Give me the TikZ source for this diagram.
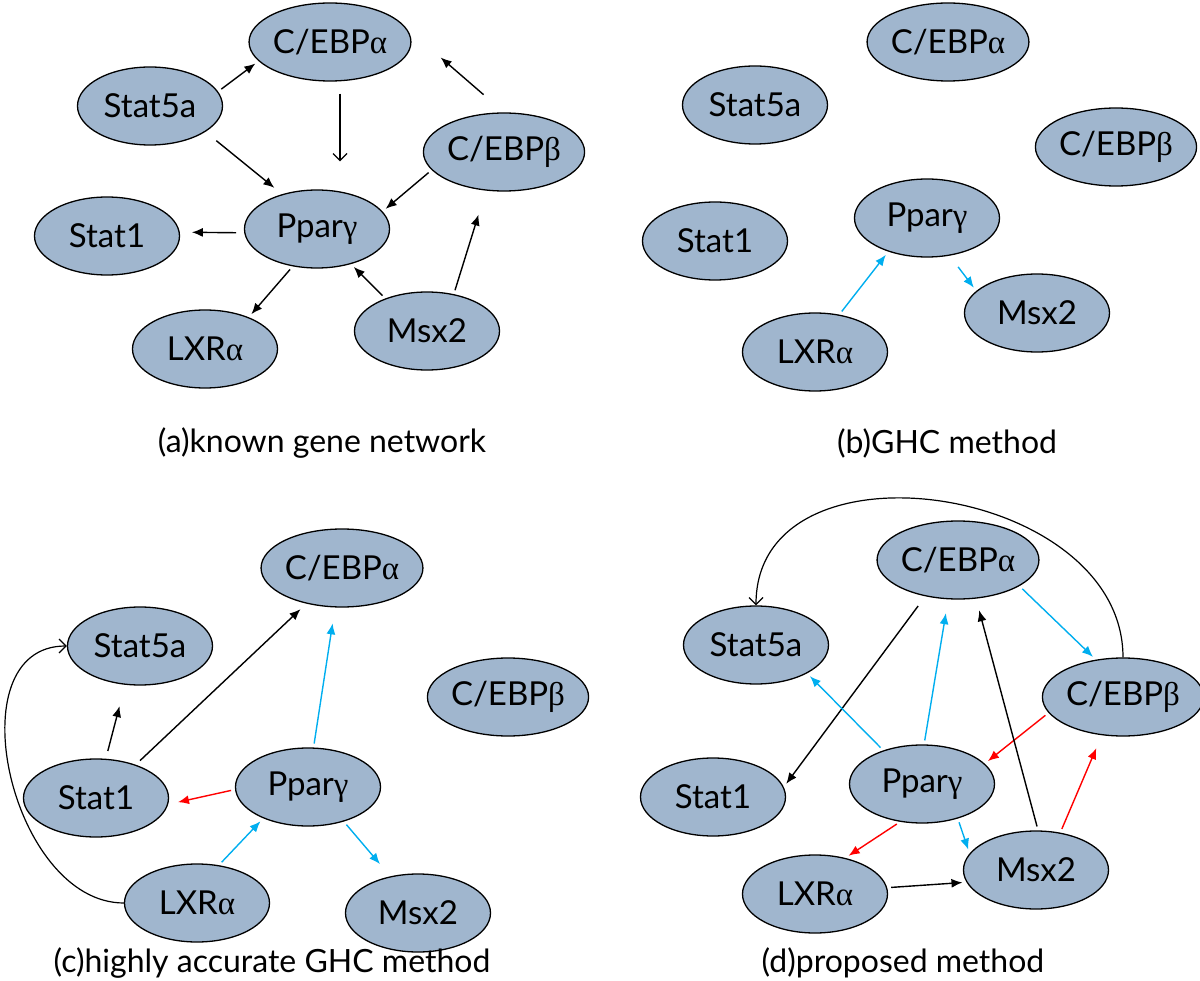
\documentclass[tikz,border=0pt]{standalone}
\usepackage{fontspec}
\setmainfont{Lato}
\newfontfamily\greekfont{Liberation Serif}
\usetikzlibrary{arrows.meta, shapes.geometric}
\definecolor{geneFill}{RGB}{160,182,206}
\definecolor{edgeBlue}{RGB}{0,174,239}
\definecolor{edgeRed}{RGB}{255,0,0}
\newcommand{\galpha}{{\greekfont α}}
\newcommand{\gbeta}{{\greekfont β}}
\newcommand{\ggam}{{\greekfont γ}}

\begin{document}
\begin{tikzpicture}[
    x=1pt, y=-1pt,
    gene/.style={ellipse, draw, line width=1.3pt, fill=geneFill, minimum width=145pt, minimum height=78pt, inner sep=0pt, font=\fontsize{33}{36}\selectfont},
    edge/.style={line width=1.4pt, -{Latex[length=11pt,width=9pt]}, shorten <=4pt, shorten >=4pt},
    bl/.style={edge, edgeBlue},
    rd/.style={edge, edgeRed},
    openedge/.style={line width=1.2pt, -{Straight Barb[length=7pt,width=14pt]}},
    caption/.style={font=\fontsize{32}{36}\selectfont}
]
    \useasboundingbox (0,0) rectangle (1200,981);

    % (a) known gene network
    \node[gene] (a-cebpa) at (330,42) {C/EBP\galpha};
    \node[gene] (a-stat5a) at (150,106) {Stat5a};
    \node[gene] (a-cebpb) at (504,152) {C/EBP\gbeta};
    \node[gene] (a-stat1) at (107,236) {Stat1};
    \node[gene] (a-ppar) at (317,229) {Ppar\ggam};
    \node[gene] (a-lxr) at (205,349) {LXR\galpha};
    \node[gene] (a-msx) at (427,331) {Msx2};
    \node[caption] (a-cap) at (322,443) {(a)known gene network};

    \draw[edge] (a-stat5a.12) -- (a-cebpa.195);
    \draw[openedge, shorten <=12pt, shorten >=28pt] ([xshift=10pt]a-cebpa.south) -- ([xshift=23pt]a-ppar.north);
    \draw[edge, shorten <=14pt, shorten >=10pt] (a-stat5a.-25) -- (a-ppar.135);
    \draw[edge] (a-cebpb.194) -- (a-ppar.15);
    \draw[edge, shorten <=27pt, shorten >=60pt] (a-cebpb.north) -- (a-cebpa.20);
    \draw[edge, shorten <=8pt, shorten >=12pt] (a-ppar.183) -- (a-stat1.3);
    \draw[edge] (a-ppar.237) -- (a-lxr.36);
    \draw[edge] (a-msx.142) -- (a-ppar.314);
    \draw[edge, shorten >=25pt] (a-msx.54) -- (a-cebpb.245);

    % (b) GHC method
    \node[gene] (b-cebpa) at (948,42) {C/EBP\galpha};
    \node[gene] (b-stat5a) at (755,105) {Stat5a};
    \node[gene] (b-cebpb) at (1116,147) {C/EBP\gbeta};
    \node[gene] (b-stat1) at (715,241) {Stat1};
    \node[gene] (b-ppar) at (927,218) {Ppar\ggam};
    \node[gene] (b-lxr) at (815,352) {LXR\galpha};
    \node[gene] (b-msx) at (1037,313) {Msx2};
    \node[caption] (b-cap) at (947,443) {(b)GHC method};

    \draw[bl] (b-lxr.57) -- (b-ppar.221);
    \draw[bl, shorten <=14pt] (b-ppar.301) -- (b-msx.160);

    % (c) highly accurate GHC method
    \node[gene] (c-cebpa) at (342,568) {C/EBP\galpha};
    \node[gene] (c-stat5a) at (140,646) {Stat5a};
    \node[gene] (c-cebpb) at (508,697) {C/EBP\gbeta};
    \node[gene] (c-stat1) at (96,798) {Stat1};
    \node[gene] (c-ppar) at (308,787) {Ppar\ggam};
    \node[gene] (c-lxr) at (197,903) {LXR\galpha};
    \node[gene] (c-msx) at (418,913) {Msx2};
    \node[caption] (c-cap) at (272,963) {(c)highly accurate GHC method};

    \draw[edge, shorten <=8pt, shorten >=22pt] (c-stat1.76) -- (c-stat5a.249);
    \draw[edge, shorten <=6pt, shorten >=8pt] (c-stat1.40) -- (c-cebpa.225);
    \draw[bl, shorten >=16pt] (c-ppar.82) -- (c-cebpa.260);
    \draw[rd, shorten >=10pt] (c-ppar.182) -- (c-stat1.355);
    \draw[bl] (c-lxr.60) -- (c-ppar.215);
    \draw[bl, shorten >=16pt] (c-ppar.316) -- (c-msx.127);
    \draw[openedge] (c-lxr.west) to[out=180, in=180, looseness=1.1] (c-stat5a.west);

    % (d) proposed method
    \node[gene] (d-cebpa) at (958,560) {C/EBP\galpha};
    \node[gene] (d-stat5a) at (756,645) {Stat5a};
    \node[gene] (d-cebpb) at (1123,697) {C/EBP\gbeta};
    \node[gene] (d-stat1) at (713,797) {Stat1};
    \node[gene] (d-ppar) at (922,784) {Ppar\ggam};
    \node[gene] (d-lxr) at (815,894) {LXR\galpha};
    \node[gene] (d-msx) at (1036,870) {Msx2};
    \node[caption] (d-cap) at (903,963) {(d)proposed method};

    \draw[openedge] (d-cebpb.north) to[out=90, in=90, looseness=1.2] (d-stat5a.north);
    \draw[edge, shorten <=12pt] (d-cebpa.228) -- (d-stat1.8);
    \draw[bl] (d-ppar.139) -- (d-stat5a.331);
    \draw[bl, shorten >=14pt] (d-ppar.87) -- (d-cebpa.256);
    \draw[bl] (d-cebpa.337) -- (d-cebpb.126);
    \draw[rd] (d-cebpb.192) -- (d-ppar.18);
    \draw[edge, shorten >=12pt] (d-msx.87) -- (d-cebpa.295);
    \draw[rd, shorten >=14pt] (d-msx.57) -- (d-cebpb.241);
    \draw[bl] (d-ppar.316) -- (d-msx.166);
    \draw[rd] (d-ppar.240) -- (d-lxr.50);
    \draw[edge] (d-lxr.5) -- (d-msx.190);
\end{tikzpicture}
\end{document}
